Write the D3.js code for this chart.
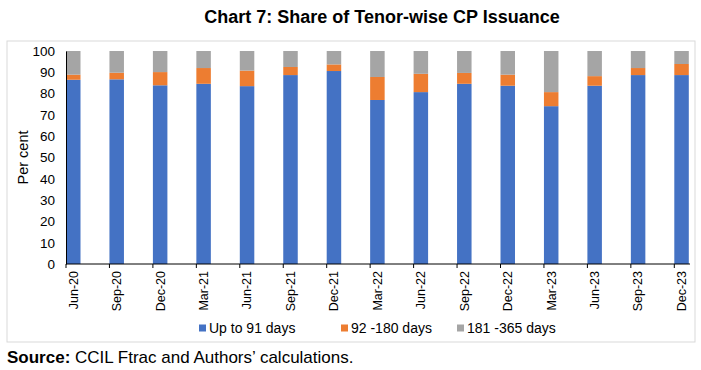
<!DOCTYPE html>
<html>
<head>
<meta charset="utf-8">
<script src="https://cdn.jsdelivr.net/npm/d3@7"></script>
<style>
  body { margin: 0; background: #fff; }
  svg { font-family: "Liberation Sans", Arial, sans-serif; }
</style>
</head>
<body>
<svg id="chart" width="701" height="370"></svg>
<script>
// categories and series (per cent)
const quarters = ["Jun-20", "Sep-20", "Dec-20", "Mar-21", "Jun-21", "Sep-21", "Dec-21", "Mar-22",
  "Jun-22", "Sep-22", "Dec-22", "Mar-23", "Jun-23", "Sep-23", "Dec-23"];
const upTo91 = [86.5, 86.7, 83.9, 84.6, 83.5, 88.7, 90.6, 77.0, 80.7, 84.6, 83.7, 74.1, 83.7, 88.7, 88.7];
const d92to180 = [2.4, 3.1, 6.2, 7.4, 7.3, 3.8, 3.1, 10.8, 8.6, 5.1, 5.2, 6.6, 4.5, 3.3, 5.2];
const d181to365 = [11.1, 10.2, 9.9, 8.0, 9.2, 7.5, 6.3, 12.2, 10.7, 10.3, 11.1, 19.3, 11.8, 8.0, 6.1];
const yTicks = [0, 10, 20, 30, 40, 50, 60, 70, 80, 90, 100];
const seriesNames = ["Up to 91 days", "92 -180 days", "181 -365 days"];
const colors = ["#4472C4", "#ED7D31", "#A5A5A5"];

const svg = d3.select("#chart");
const plotLeft = 66, plotTop = 51, plotBottom = 264, axisEnd = 690;
const step = 43.45, barW = 14.5;

// frame
svg.append("rect")
  .attr("x", 7).attr("y", 41)
  .attr("width", 688).attr("height", 301)
  .attr("fill", "none").attr("stroke", "#d9d9d9").attr("stroke-width", 1);

// title
svg.append("text")
  .attr("x", 382).attr("y", 23)
  .attr("text-anchor", "middle")
  .style("font-size", "18px").style("font-weight", "bold")
  .text("Chart 7: Share of Tenor-wise CP Issuance");

// scales (band range sized so the step is exactly `step`)
var x = d3.scaleBand().domain(quarters)
  .range([plotLeft, plotLeft + step * (quarters.length - 1) + barW])
  .paddingInner(1 - barW / step).paddingOuter(0).align(0);
var y = d3.scaleLinear().domain([0, 100]).range([plotBottom, plotTop]);

// stacked data
const rows = quarters.map((q, i) => ({ q: q, a: upTo91[i], b: d92to180[i], c: d181to365[i] }));
const stacked = d3.stack().keys(["a", "b", "c"])(rows);

svg.append("g").selectAll("g")
  .data(stacked)
  .enter().append("g")
    .attr("fill", (d, i) => colors[i])
  .selectAll("rect")
  .data(d => d)
  .enter().append("rect")
    .attr("x", d => x(d.data.q))
    .attr("y", d => y(d[1]))
    .attr("width", x.bandwidth())
    .attr("height", d => y(d[0]) - y(d[1]));

// y axis
var yAxis = svg.append("g")
  .attr("transform", "translate(" + plotLeft + ",0)")
  .call(d3.axisLeft(y).tickValues(yTicks).tickSize(0).tickPadding(11));
yAxis.select(".domain").attr("stroke", "#000");
yAxis.selectAll("text").style("font-size", "13.5px").attr("fill", "#000");

svg.append("text")
  .attr("transform", "translate(28," + ((plotTop + plotBottom) / 2) + ") rotate(-90)")
  .attr("text-anchor", "middle")
  .style("font-size", "14.5px")
  .text("Per cent");

// x axis: labels centred under bars, ticks at the left edge of each bar
var xAxis = svg.append("g")
  .attr("transform", "translate(0," + plotBottom + ")")
  .call(d3.axisBottom(x).tickSize(0).tickSizeOuter(0));
xAxis.select(".domain").remove();
xAxis.selectAll("text")
  .style("font-size", "12.5px").attr("fill", "#000")
  .attr("text-anchor", "end")
  .attr("transform", "rotate(-90)")
  .attr("x", -7).attr("y", 0).attr("dy", "0.35em");

xAxis.selectAll(".tickmark")
  .data(quarters)
  .enter().append("line")
    .attr("class", "tickmark")
    .attr("x1", d => x(d)).attr("x2", d => x(d))
    .attr("y1", 0).attr("y2", 4)
    .attr("stroke", "#000");

xAxis.append("line")
  .attr("x1", plotLeft).attr("x2", axisEnd)
  .attr("y1", 0).attr("y2", 0)
  .attr("stroke", "#000");

// legend
const legendX = [199, 341, 457];
var legend = svg.append("g").selectAll("g")
  .data(seriesNames)
  .enter().append("g")
    .attr("transform", (d, i) => "translate(" + legendX[i] + ",325)");
legend.append("rect")
  .attr("width", 7).attr("height", 7).attr("y", -0.5)
  .attr("fill", (d, i) => colors[i]);
legend.append("text")
  .attr("x", 10).attr("y", 7.5)
  .style("font-size", "14px")
  .text(d => d);

// source note
var src = svg.append("text")
  .attr("x", 7).attr("y", 363)
  .style("font-size", "17px");
src.append("tspan").style("font-weight", "bold").text("Source:");
src.append("tspan").text(" CCIL Ftrac and Authors\u2019 calculations.");
</script>
</body>
</html>
